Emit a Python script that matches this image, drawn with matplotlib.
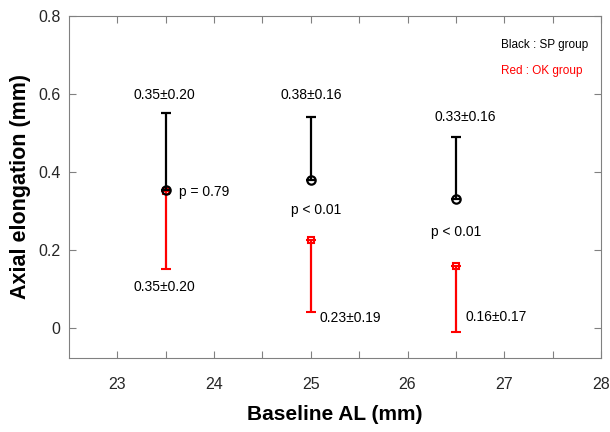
import matplotlib
matplotlib.use('Agg')

import numpy as np
import matplotlib.pyplot as plt

# baseline axial length groups
baseline_al = [23.5, 25.0, 26.5]

# SP group (black): mean and SD, error drawn upward
sp_mean = [0.355, 0.38, 0.33]
sp_sd = [0.195, 0.16, 0.16]
sp_text = ['0.35\u00b10.20', '0.38\u00b10.16', '0.33\u00b10.16']

# OK group (red): mean and SD, error drawn downward
ok_mean = [0.35, 0.225, 0.16]
ok_sd = [0.20, 0.185, 0.17]
ok_text = ['0.35\u00b10.20', '0.23\u00b10.19', '0.16\u00b10.17']

p_text = ['p = 0.79', 'p < 0.01', 'p < 0.01']

plt.rcParams['font.family'] = ['Liberation Sans', 'DejaVu Sans']

fig = plt.figure(figsize=(6.1, 4.32), dpi=100)
ax = fig.add_axes([0.1131, 0.1713, 0.8721, 0.7917])

x = np.array(baseline_al)
sp_m = np.array(sp_mean)
ok_m = np.array(ok_mean)
zeros = np.zeros(len(x))

ax.errorbar(x, ok_m, yerr=[np.array(ok_sd), zeros], fmt='s', color='red',
            mfc='none', mec='red', ms=4.5, mew=1.5, elinewidth=1.6,
            capsize=3.5, capthick=1.5, zorder=2)
ax.errorbar(x, sp_m, yerr=[zeros, np.array(sp_sd)], fmt='o', color='black',
            mfc='none', mec='black', ms=6, mew=1.6, elinewidth=1.6,
            capsize=3.5, capthick=1.5, zorder=3)

fs = 10
# annotations: SP group labels
ax.text(23.49, 0.597, sp_text[0], ha='center', va='center', fontsize=fs)
ax.text(25.0, 0.597, sp_text[1], ha='center', va='center', fontsize=fs)
ax.text(26.6, 0.541, sp_text[2], ha='center', va='center', fontsize=fs)
# OK group labels
ax.text(23.49, 0.105, ok_text[0], ha='center', va='center', fontsize=fs)
ax.text(25.09, 0.026, ok_text[1], ha='left', va='center', fontsize=fs)
ax.text(26.6, 0.028, ok_text[2], ha='left', va='center', fontsize=fs)
# p values
ax.text(23.64, 0.349, p_text[0], ha='left', va='center', fontsize=fs)
ax.text(25.06, 0.303, p_text[1], ha='center', va='center', fontsize=fs)
ax.text(26.5, 0.246, p_text[2], ha='center', va='center', fontsize=fs)
# legend text
ax.text(26.97, 0.726, 'Black : SP group', ha='left', va='center', fontsize=8.5, color='black')
ax.text(26.97, 0.659, 'Red : OK group', ha='left', va='center', fontsize=8.5, color='red')

ax.set_xlim(22.5, 28)
ax.set_ylim(-0.077, 0.8)
ax.set_xticks(np.arange(23, 28.01, 0.5))
ax.set_xticklabels(['23', '', '24', '', '25', '', '26', '', '27', '', '28'])
ax.set_yticks([0, 0.2, 0.4, 0.6, 0.8])
ax.set_yticklabels(['0', '0.2', '0.4', '0.6', '0.8'])

ax.tick_params(direction='in', top=True, right=True, length=5, width=0.8,
               color='#808080', labelcolor='#262626', labelsize=11.5)
ax.tick_params(axis='x', pad=14)
ax.tick_params(axis='y', pad=6)
for s in ax.spines.values():
    s.set_color('#808080')
    s.set_linewidth(0.8)

ax.set_xlabel('Baseline AL (mm)', fontsize=15, fontweight='bold', labelpad=9)
ax.set_ylabel('Axial elongation (mm)', fontsize=15.5, fontweight='bold', labelpad=5)

plt.savefig('out.png', dpi=100)
plt.close()
